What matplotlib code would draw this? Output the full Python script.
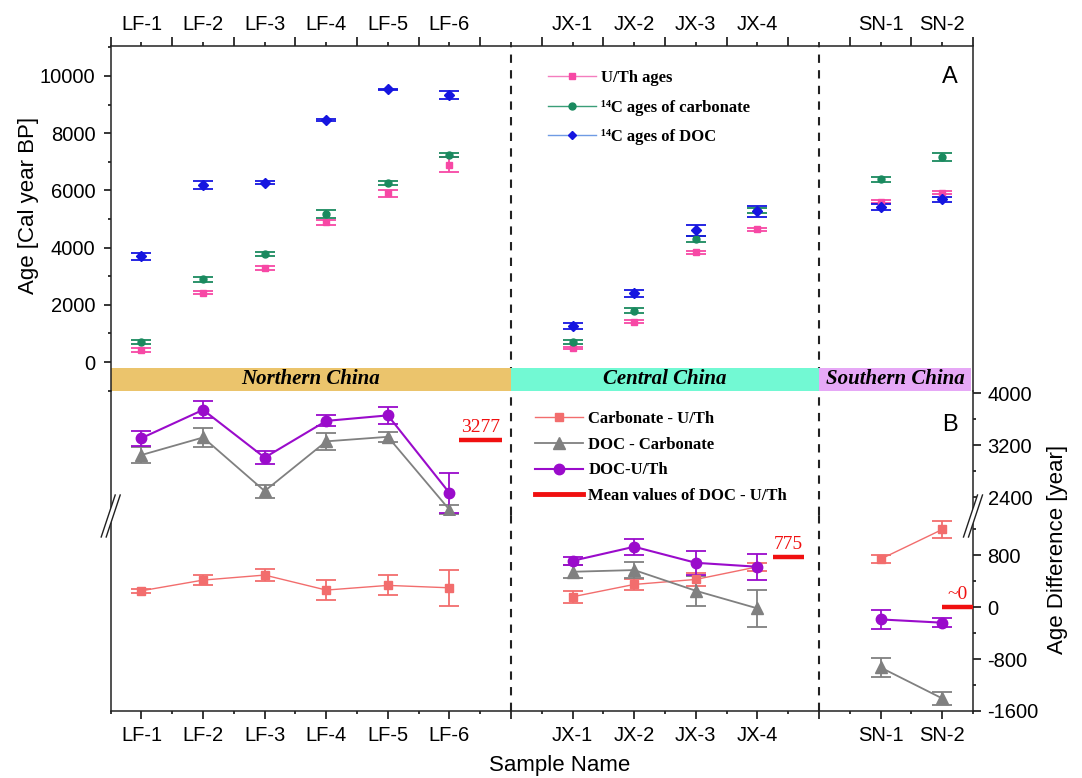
import numpy as np
import matplotlib
matplotlib.use("Agg")
import matplotlib.pyplot as plt
from matplotlib.lines import Line2D
from matplotlib.patches import Polygon
from matplotlib.ticker import MultipleLocator

plt.rcParams['font.family'] = ['Liberation Sans', 'DejaVu Sans']
plt.rcParams['axes.unicode_minus'] = False
SERIF = ['Liberation Serif', 'DejaVu Serif']

# ---------------- data ----------------
regions = ["Northern China", "Central China", "Southern China"]
region_samples = [
    ["LF-1", "LF-2", "LF-3", "LF-4", "LF-5", "LF-6"],
    ["JX-1", "JX-2", "JX-3", "JX-4"],
    ["SN-1", "SN-2"],
]
region_colors = ["#EBC46C", "#72F9D3", "#E6A8F6"]

# panel A: ages [cal yr BP] with errors
uth_age = [430, 2430, 3280, 4880, 5900, 6900, 490, 1410, 3830, 4645, 5600, 5925]
uth_err = [70, 60, 70, 90, 130, 260, 50, 50, 50, 50, 50, 50]
carb_age = [700, 2900, 3780, 5170, 6270, 7240, 690, 1800, 4300, 5300, 6390, 7160]
carb_err = [60, 90, 75, 130, 70, 60, 70, 90, 120, 100, 90, 140]
doc_age = [3690, 6180, 6270, 8460, 9530, 9320, 1250, 2410, 4600, 5270, 5420, 5690]
doc_err = [120, 135, 60, 40, 30, 140, 100, 120, 200, 200, 110, 90]

# panel B: age differences [yr]
carb_uth = [251, 416, 493, 262, 334, 297, 159, 349, 426, 620, 739, 1195]
carb_uth_err = [35, 80, 90, 150, 155, 277, 95, 90, 95, 60, 67, 130]
doc_carb = [3050, 3320, 2495, 3260, 3330, 2207, 544, 570, 251, -20, -930, -1406]
doc_carb_err = [120, 150, 100, 130, 80, 70, 97, 123, 230, 280, 140, 95]
doc_uth = [3310, 3745, 3010, 3575, 3660, 2465, 713, 929, 682, 621, -190, -240]
doc_uth_err = [115, 130, 100, 85, 135, 310, 65, 120, 187, 197, 140, 65]
mean_doc_uth = [3277, 775, 0]
mean_text = ["3277", "775", "~0"]

# ---------------- colours ----------------
C_UTH, C_CARB, C_DOC = "#F748A5", "#1A8A5F", "#1515E0"
C_CU, C_DC, C_DU, C_MEAN = "#F26D6D", "#808080", "#9A0BCB", "#F01010"
SPINE = "#222222"

# category positions, one empty slot between regions
pos = []
start = 1
for s in region_samples:
    pos.append(np.arange(start, start + len(s)))
    start += len(s) + 1
x = np.concatenate(pos)
slices = []
i0 = 0
for s in region_samples:
    slices.append(slice(i0, i0 + len(s)))
    i0 += len(s)
dividers = [p[-1] + 1 for p in pos[:-1]]
edges = [0.5] + dividers + [pos[-1][-1] + 0.5]
xmax = edges[-1]
names = [n for s in region_samples for n in s]
label_map = dict(zip(x.tolist(), names))
tick_pos = list(range(1, int(xmax) + 1))
tick_lab = [label_map.get(t, "") for t in tick_pos]

# ---------------- figure ----------------
W, H = 1082, 778
fig = plt.figure(figsize=(W / 100, H / 100), dpi=100)


def fx(px):
    return px / W


def fy(py):
    return 1 - py / H


LEFT, RIGHT = 110.7, 973


def add_axes(top, bottom):
    ax = fig.add_axes([fx(LEFT), fy(bottom), fx(RIGHT) - fx(LEFT), fy(top) - fy(bottom)])
    ax.patch.set_alpha(0)
    for sp in ax.spines.values():
        sp.set_linewidth(1.1)
        sp.set_color(SPINE)
    ax.set_xlim(0.5, xmax)
    return ax


axA = add_axes(46, 390.7)
axBu = add_axes(390.7, 515)
axBl = add_axes(515, 711)

axA.set_ylim(-1000, 11046)
axBu.set_ylim(2126, 4040)
axBl.set_ylim(-1600, 1418)

# dashed region dividers
for ax in (axA, axBu, axBl):
    for d in dividers:
        ax.axvline(d, color=SPINE, lw=1.5, ls=(0, (4, 3.5)), zorder=1)

# region band
for i, name in enumerate(regions):
    x0, x1 = edges[i], edges[i + 1]
    if i == len(regions) - 1:
        x1 -= 0.03
    axA.fill_between([x0, x1], -1000, -200, color=region_colors[i], lw=0, zorder=1.5)
    axA.text((x0 + x1) / 2, -600, name, ha='center', va='center', family=SERIF,
             weight='bold', style='italic', fontsize=15, zorder=2)

# ---------------- panel A ----------------
err_kw = dict(elinewidth=1.3, capsize=7, capthick=1.3, ls='none', zorder=4)
axA.errorbar(x, uth_age, yerr=uth_err, fmt='s', ms=4.5, color=C_UTH, **err_kw)
axA.errorbar(x, carb_age, yerr=carb_err, fmt='o', ms=5, color=C_CARB, **err_kw)
axA.errorbar(x, doc_age, yerr=doc_err, fmt='D', ms=5, color=C_DOC, **err_kw)

hA = [
    Line2D([], [], color="#F47DBE", lw=1, marker='s', ms=4.5, mfc=C_UTH, mec=C_UTH),
    Line2D([], [], color="#3A9E78", lw=1, marker='o', ms=5, mfc=C_CARB, mec=C_CARB),
    Line2D([], [], color="#6F9BE4", lw=1, marker='D', ms=4.5, mfc=C_DOC, mec=C_DOC),
]
axA.legend(hA, ["U/Th ages", "¹⁴C ages of carbonate", "¹⁴C ages of DOC"],
           loc='upper left', bbox_to_anchor=(0.507, 0.930), frameon=False,
           prop=dict(family=SERIF, weight='bold', size=12), handlelength=2.9,
           handletextpad=0.3, labelspacing=0.81, borderpad=0, borderaxespad=0)
axA.text(0.9733, 0.911, "A", transform=axA.transAxes, ha='center', va='center', fontsize=17)

# ---------------- panel B ----------------
series_B = [
    (carb_uth, carb_uth_err, C_CU, 's', 6, 1.0),
    (doc_carb, doc_carb_err, C_DC, '^', 8.5, 1.3),
    (doc_uth, doc_uth_err, C_DU, 'o', 7.5, 1.5),
]
mean_offsets = [(0.15, 0.85), (0.25, 0.75), (0.0, 0.5)]
for ax in (axBu, axBl):
    for vals, errs, color, marker, ms, lw in series_B:
        vals = np.asarray(vals)
        errs = np.asarray(errs)
        for sl in slices:
            ax.errorbar(x[sl], vals[sl], yerr=errs[sl], fmt='-' + marker, ms=ms, lw=lw,
                        color=color, elinewidth=1.3, capsize=7, capthick=1.3, zorder=4)
    for i, (m, t) in enumerate(zip(mean_doc_uth, mean_text)):
        xs = [pos[i][-1] + mean_offsets[i][0], pos[i][-1] + mean_offsets[i][1]]
        ax.plot(xs, [m, m], color=C_MEAN, lw=3.2, solid_capstyle='butt', zorder=5)
        ax.annotate(t, (np.mean(xs), m), xytext=(0, 3), textcoords='offset points',
                    ha='center', va='bottom', color=C_MEAN, family=SERIF, fontsize=14)

hB = [
    Line2D([], [], color=C_CU, lw=1, marker='s', ms=6),
    Line2D([], [], color=C_DC, lw=1.3, marker='^', ms=8),
    Line2D([], [], color=C_DU, lw=1.5, marker='o', ms=7.5),
    Line2D([], [], color=C_MEAN, lw=3.5),
]
axBu.legend(hB, ["Carbonate - U/Th", "DOC - Carbonate", "DOC-U/Th", "Mean values of DOC - U/Th"],
            loc='upper left', bbox_to_anchor=(0.492, 0.836), frameon=False,
            prop=dict(family=SERIF, weight='bold', size=12), handlelength=2.9,
            handletextpad=0.3, labelspacing=0.58, borderpad=0, borderaxespad=0)
axBu.text(0.9733, 0.724, "B", transform=axBu.transAxes, ha='center', va='center', fontsize=17)

# ---------------- ticks ----------------
axA.xaxis.tick_top()
axA.set_xticks(tick_pos, tick_lab)
axA.xaxis.set_minor_locator(MultipleLocator(0.5))
axA.tick_params(axis='x', which='major', direction='out', length=3, width=1.1, pad=5.5,
                labelsize=14.5, top=True, bottom=False)
axA.tick_params(axis='x', which='minor', direction='out', length=6.5, width=1.1,
                top=True, bottom=False)
axA.yaxis.set_major_locator(MultipleLocator(2000))
axA.yaxis.set_minor_locator(MultipleLocator(1000))
axA.tick_params(axis='y', which='major', direction='out', length=5, width=1.1, pad=6,
                labelsize=14.5, right=False)
axA.tick_params(axis='y', which='minor', direction='out', length=2.5, width=1.1, right=False)
axA.spines['bottom'].set_visible(False)

axBu.tick_params(axis='x', which='both', bottom=False, top=False, labelbottom=False)
axBu.spines['top'].set_visible(False)
axBu.spines['bottom'].set_visible(False)
axBl.spines['top'].set_visible(False)

for ax in (axBu, axBl):
    ax.yaxis.tick_right()
    ax.yaxis.set_major_locator(MultipleLocator(800))
    ax.yaxis.set_minor_locator(MultipleLocator(400))
    ax.tick_params(axis='y', which='major', direction='out', length=5.5, width=1.1, pad=5,
                   labelsize=14.5, left=False)
    ax.tick_params(axis='y', which='minor', direction='out', length=2.4, width=1.1, left=False)

axBl.set_xticks(tick_pos, tick_lab)
axBl.xaxis.set_minor_locator(MultipleLocator(0.5))
axBl.tick_params(axis='x', which='major', direction='out', length=5.5, width=1.1, pad=5.5,
                 labelsize=14.5, top=False)
axBl.tick_params(axis='x', which='minor', direction='out', length=2.4, width=1.1, top=False)

# ---------------- axis titles ----------------
fig.text(fx(29), fy(205), "Age [Cal year BP]", rotation=90, ha='center', va='center', fontsize=16)
fig.text(fx(1057), fy(549), "Age Difference [year]", rotation=90, ha='center', va='center',
         fontsize=16)
fig.text(fx(560), fy(765), "Sample Name", ha='center', va='center', fontsize=16)


# ---------------- axis break marks ----------------
def break_mark(px, py, hw=7, hh=21, g=2.5):
    pts = [(px - hw - g, py + hh), (px + hw - g, py - hh), (px + hw + g, py - hh), (px - hw + g, py + hh)]
    fig.add_artist(Polygon([(fx(a), fy(b)) for a, b in pts], closed=True, transform=fig.transFigure,
                           facecolor='white', edgecolor='none', zorder=10))
    for s in (-g, g):
        fig.add_artist(Line2D([fx(px - hw + s), fx(px + hw + s)], [fy(py + hh), fy(py - hh)],
                              transform=fig.transFigure, color=SPINE, lw=1.0, zorder=11))


break_mark(LEFT, 516)
break_mark(RIGHT, 516)

fig.savefig("out.png", dpi=100)
